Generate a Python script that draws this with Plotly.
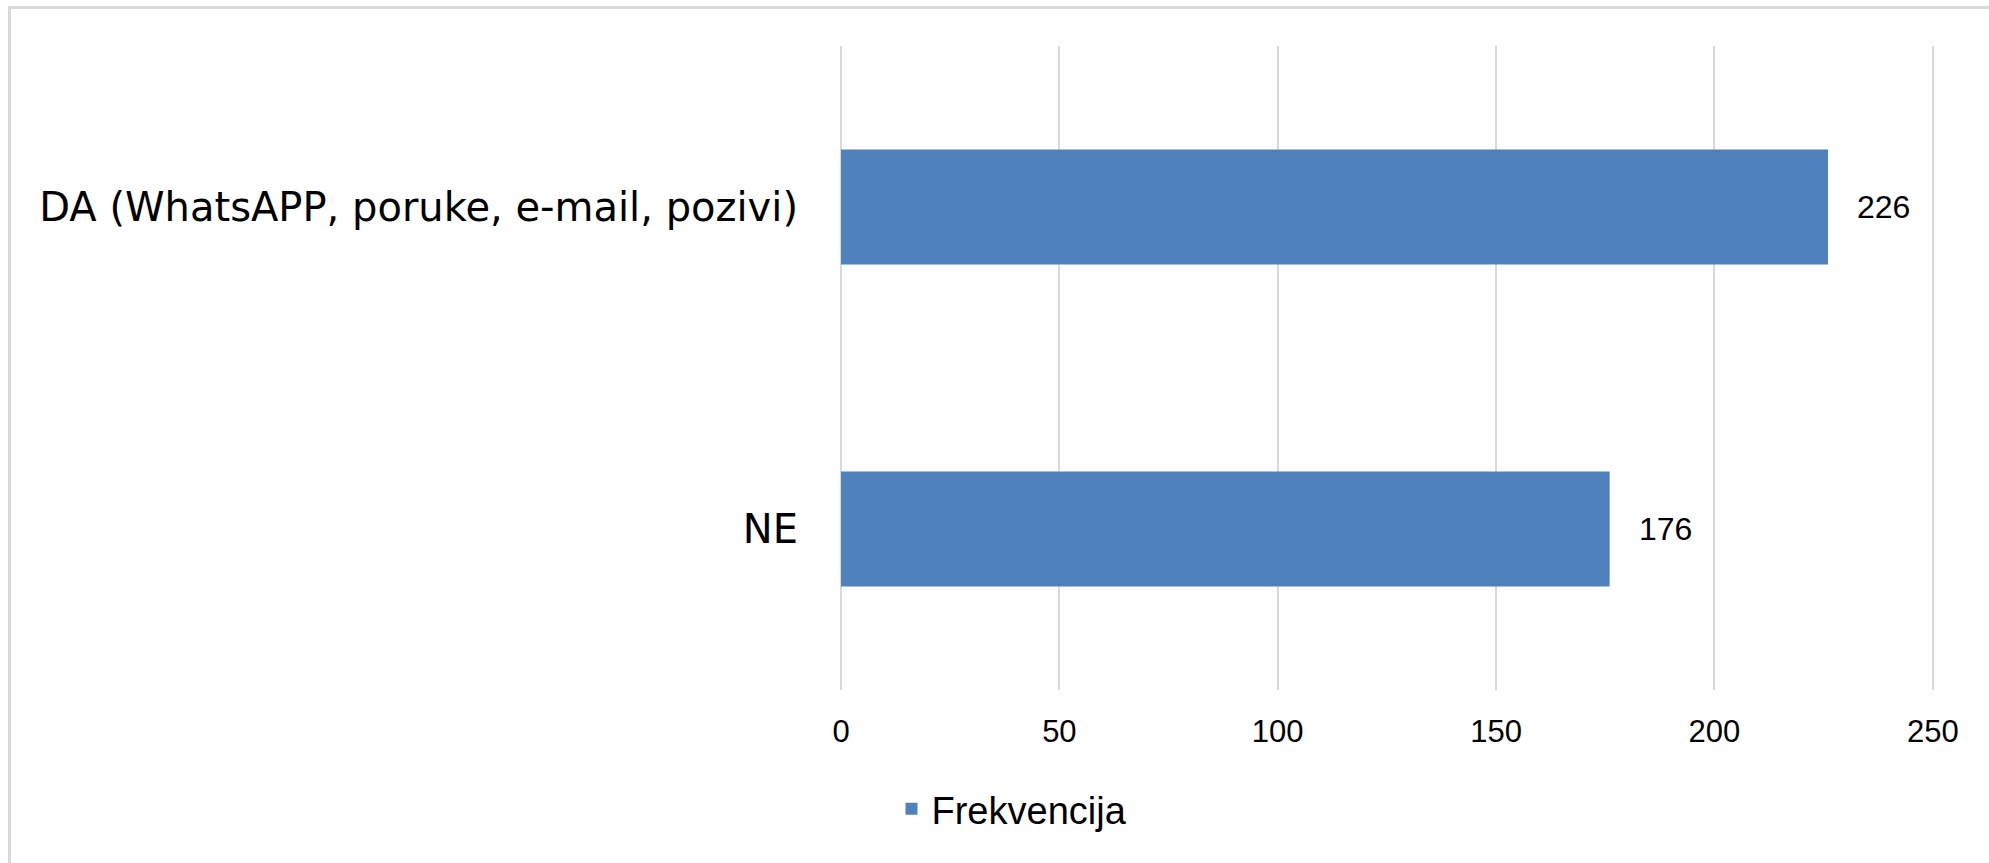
import plotly.graph_objects as go

categories = ["DA (WhatsAPP, poruke, e-mail, pozivi)", "NE"]
values = [226, 176]
series_name = "Frekvencija"
x_ticks = [0, 50, 100, 150, 200, 250]
x_max = 250.5

W, H = 1989, 863
ML, MT = 841, 46
PW = round(1092 * x_max / 250)
PH = 644
MR, MB = W - ML - PW, H - MT - PH

def px_x(p):  # page pixel -> paper
    return (p - ML) / PW

def px_y(p):
    return (MT + PH - p) / PH

NUM_FONT = "Liberation Sans, Arial, sans-serif"
CAT_FONT = "DejaVu Sans, Liberation Sans, sans-serif"
BAR = "#4f81bd"
GRID = "#d9d9d9"

fig = go.Figure()
fig.add_trace(go.Bar(
    x=values, y=categories, orientation="h", name=series_name,
    marker=dict(color=BAR, line=dict(width=0)),
    showlegend=True,
))

for c, v in zip(categories, values):
    fig.add_annotation(
        x=v, y=c, xref="x", yref="y", text=str(v), showarrow=False,
        xanchor="left", yanchor="middle", xshift=27,
        font=dict(family=NUM_FONT, size=32, color="#000000"),
    )

border = "#d9d9d9"
fig.add_shape(type="line", xref="paper", yref="paper",
              x0=px_x(9.5), x1=px_x(2000), y0=px_y(7.5), y1=px_y(7.5),
              line=dict(color=border, width=3))
fig.add_shape(type="line", xref="paper", yref="paper",
              x0=px_x(9.5), x1=px_x(9.5), y0=px_y(6), y1=px_y(880),
              line=dict(color=border, width=3))

fig.update_layout(
    width=W, height=H,
    margin=dict(l=ML, r=MR, t=MT, b=MB, pad=0),
    paper_bgcolor="white", plot_bgcolor="white",
    bargap=0.643,
    font=dict(family=NUM_FONT, color="#000000"),
    showlegend=True,
    legend=dict(
        orientation="h", x=px_x(1012), xanchor="center",
        y=px_y(809), yanchor="middle",
        font=dict(family=NUM_FONT, size=38, color="#000000"),
        bgcolor="rgba(0,0,0,0)",
    ),
    xaxis=dict(
        range=[0, x_max], tickvals=x_ticks, ticktext=[str(t) for t in x_ticks],
        showgrid=True, gridcolor=GRID, gridwidth=2,
        zeroline=True, zerolinecolor=GRID, zerolinewidth=2,
        showline=False, ticks="",
        tickfont=dict(family=NUM_FONT, size=31, color="#000000"),
        ticklabelstandoff=20,
        fixedrange=True,
    ),
    yaxis=dict(
        autorange="reversed", showgrid=False, zeroline=False, showline=False,
        ticks="", tickfont=dict(family=CAT_FONT, size=40, color="#000000"),
        ticklabelstandoff=42,
        fixedrange=True,
    ),
)

fig.write_html(
    "out.html",
    config={"displayModeBar": False},
    post_script="document.body.style.margin='0';document.body.style.overflow='hidden';",
)
